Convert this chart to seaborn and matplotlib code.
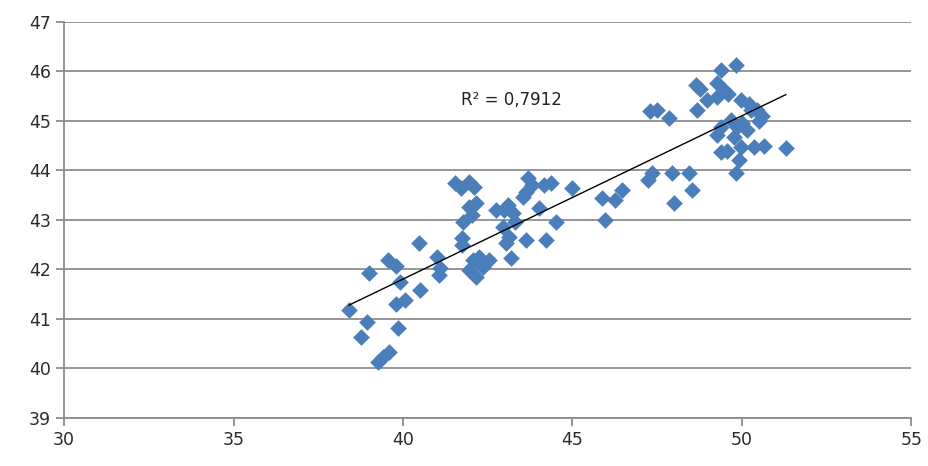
import numpy             as np
import pandas            as pd
import seaborn           as sns
import matplotlib.pyplot as plt

# ============================================================ DATA ============================================================

x_values = [
    38.40, 38.95, 38.75, 39.25, 39.42, 39.60, 39.00, 39.55, 39.78, 39.90,
    39.85, 39.80, 40.05, 40.50, 40.47, 41.00, 41.05, 41.10,
    41.52, 41.70, 41.96, 42.10, 41.96, 42.16, 42.05, 41.78, 41.73, 41.73,
    42.08, 42.25, 41.96, 42.37, 42.54, 42.16, 42.30, 42.75, 42.98, 43.25,
    43.10, 42.95, 43.13, 43.04, 43.19, 43.30, 43.68, 43.63, 43.54, 43.80,
    44.15, 44.36, 44.00, 43.63, 44.21, 44.50, 45.00, 45.88, 46.26, 46.46,
    45.96, 47.34, 47.22, 47.95, 48.45, 48.54, 48.01,
    47.30, 47.50, 47.85, 48.65, 48.75, 49.39, 49.82, 49.27, 49.47, 49.60,
    48.98, 48.68, 49.27, 49.97, 50.26, 50.44, 50.60, 49.68, 49.39, 49.85,
    50.15, 49.27, 49.77, 50.00, 49.39, 49.55, 49.97, 50.35, 50.65, 51.30,
    49.91, 49.82, 50.20, 50.50,
]
y_values = [
    41.18, 40.94, 40.64, 40.13, 40.23, 40.33, 41.93, 42.19, 42.07, 41.75,
    40.82, 41.30, 41.38, 41.59, 42.54, 42.25, 41.89, 42.03,
    43.75, 43.65, 43.77, 43.67, 43.26, 43.34, 43.10, 42.96, 42.64, 42.50,
    42.19, 42.25, 41.99, 42.05, 42.19, 41.85, 42.10, 43.20, 43.20, 43.14,
    43.30, 42.86, 42.66, 42.54, 42.23, 42.95, 43.85, 43.57, 43.47, 43.70,
    43.71, 43.75, 43.24, 42.60, 42.60, 42.96, 43.65, 43.44, 43.40, 43.60,
    43.00, 43.95, 43.81, 43.95, 43.95, 43.60, 43.34,
    45.20, 45.22, 45.05, 45.73, 45.65, 46.03, 46.13, 45.77, 45.63, 45.55,
    45.42, 45.22, 45.48, 45.42, 45.22, 45.22, 45.10, 45.02, 44.88, 44.88,
    44.82, 44.72, 44.68, 44.95, 44.37, 44.40, 44.47, 44.47, 44.50, 44.45,
    44.21, 43.95, 45.35, 45.00,
]
r2_label = "R² = 0,7912"

dataframe = pd.DataFrame({"x": x_values, "y": y_values})

# ============================================================ PLOT ============================================================

sns.set_theme(style="white")
plt.rcParams['font.family'] = ['DejaVu Sans']

fig = plt.figure(figsize=(9.29, 4.66), dpi=100)
ax  = fig.add_axes([0.069, 0.103, 0.912, 0.850])

ax.set_xlim(30, 55)
ax.set_ylim(39, 47)
ax.set_xticks(np.arange(30, 56, 5))
ax.set_yticks(np.arange(39, 48, 1))
ax.yaxis.grid(True, color="#8c8c8c", linewidth=1.3)
ax.set_axisbelow(True)

sns.scatterplot(data=dataframe, x="x", y="y", marker="D", s=72, color="#4a7ebb",
                edgecolor="#4a7ebb", linewidth=0, ax=ax, zorder=3)
sns.regplot(data=dataframe, x="x", y="y", scatter=False, ci=None, truncate=True,
            line_kws={"color": "black", "linewidth": 1.0, "zorder": 4}, ax=ax)

ax.text(43.2, 45.42, r2_label, fontsize=12, color="#222222", ha="center", va="center", zorder=5)

for side in ["top", "right"]:
    ax.spines[side].set_visible(False)
for side in ["left", "bottom"]:
    ax.spines[side].set_color("#8c8c8c")
    ax.spines[side].set_linewidth(1.3)

ax.tick_params(axis="both", which="major", length=6, width=1.3, color="#8c8c8c",
               labelsize=12.5, labelcolor="#2b2b2b", left=True, bottom=True)
ax.set_xlabel("")
ax.set_ylabel("")

fig.savefig("out.png", dpi=100)
